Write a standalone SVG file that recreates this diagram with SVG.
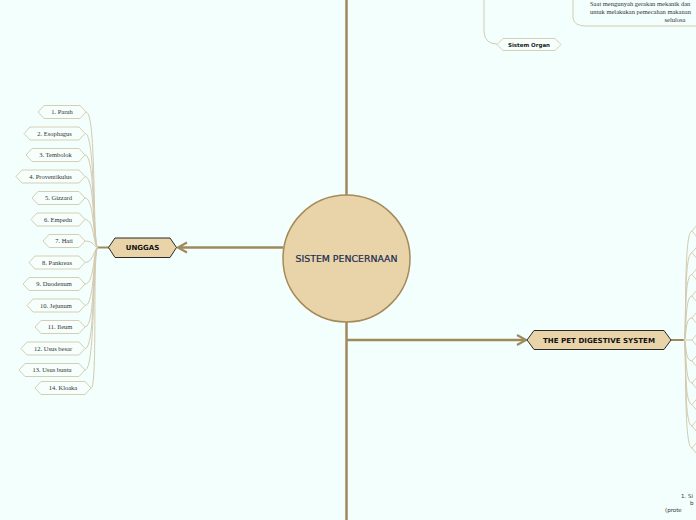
<svg xmlns="http://www.w3.org/2000/svg" width="696" height="520" viewBox="0 0 696 520">
<style>
.bg{fill:#f3fffd}
.main{fill:none;stroke:#a08a5c;stroke-width:2.5}
.thin{fill:none;stroke:#d3cab0;stroke-width:1}
.leaf{fill:#f6fffb;stroke:#d6ceb4;stroke-width:1}
.leaft{font-family:"Liberation Serif","DejaVu Serif",serif;font-size:6.5px;fill:#333;text-anchor:middle}
.topic{fill:#e8d4a8;stroke:#2a2a2a;stroke-width:1}
.topict{font-family:"DejaVu Sans",sans-serif;font-weight:bold;font-size:7px;fill:#111;text-anchor:middle}
.note{font-family:"Liberation Serif","DejaVu Serif",serif;font-size:6.5px;fill:#333}
</style>
<defs>
<marker id="arr" markerWidth="14" markerHeight="14" refX="10" refY="6" orient="auto" markerUnits="userSpaceOnUse" overflow="visible">
<path d="M1 1 L10 6 L1 11" fill="none" stroke="#a08a5c" stroke-width="2.2"/>
</marker>
</defs>
<rect class="bg" x="0" y="0" width="696" height="520"/>

<g id="connectors">
<path class="main" d="M346.5 0 V195"/>
<path class="main" d="M346.5 322 V520"/>
<path class="main" d="M283 247.5 H178" marker-end="url(#arr)"/>
<path class="main" d="M346.5 340 H526" marker-end="url(#arr)"/>
<path class="main" d="M671 340 H684" style="stroke-width:2"/>
<path class="main" d="M98 247.5 H109" style="stroke-width:2"/>
<path class="thin" d="M484 0 V32 Q485 44 497 44"/>
<path class="thin" d="M573 0 V18 Q574 26 586 26 H696"/>
<path class="thin" d="M86 112 C97 112 92 247.5 98 247.5"/>
<path class="thin" d="M85 133.5 C96 133.5 92 247.5 98 247.5"/>
<path class="thin" d="M85 155 C96 155 92 247.5 98 247.5"/>
<path class="thin" d="M85 176.5 C96 176.5 92 247.5 98 247.5"/>
<path class="thin" d="M85 198 C95 198 93 247.5 98 247.5"/>
<path class="thin" d="M85 219.5 C95 219.5 93 247.5 98 247.5"/>
<path class="thin" d="M85 241 C94 241 94 247.5 98 247.5"/>
<path class="thin" d="M85 262.5 C94 262.5 94 247.5 98 247.5"/>
<path class="thin" d="M85 284 C95 284 93 247.5 98 247.5"/>
<path class="thin" d="M85 305.5 C95 305.5 93 247.5 98 247.5"/>
<path class="thin" d="M85 327 C96 327 92 247.5 98 247.5"/>
<path class="thin" d="M85 348.5 C96 348.5 92 247.5 98 247.5"/>
<path class="thin" d="M85 370 C96 370 92 247.5 98 247.5"/>
<path class="thin" d="M91 388 C98 388 92 247.5 98 247.5"/>
<path class="thin" d="M684 340 C687 340 683 231 692 231"/>
<path class="thin" d="M684 340 C687 340 683 252.7 692 252.7"/>
<path class="thin" d="M684 340 C687 340 683 274.4 692 274.4"/>
<path class="thin" d="M684 340 C687 340 684 296 692 296"/>
<path class="thin" d="M684 340 C687 340 684 317.8 692 317.8"/>
<path class="thin" d="M684 340 H692"/>
<path class="thin" d="M684 340 C687 340 684 361 692 361"/>
<path class="thin" d="M684 340 C687 340 684 383 692 383"/>
<path class="thin" d="M684 340 C687 340 683 404.6 692 404.6"/>
<path class="thin" d="M684 340 C687 340 683 426 692 426"/>
<path class="thin" d="M684 340 C687 340 683 448 692 448"/>
</g>

<g id="center">
<circle cx="346.5" cy="258.5" r="63.5" fill="#e8d4a8" stroke="#a58a5a" stroke-width="1.5"/>
<text x="346.5" y="261.5" font-family="DejaVu Sans,sans-serif" font-size="9px" fill="#1b2a55" stroke="#1b2a55" stroke-width="0.2" text-anchor="middle" textLength="102" lengthAdjust="spacingAndGlyphs">SISTEM PENCERNAAN</text>
</g>

<g id="unggas">
<path class="topic" d="M108.5 247.5 L115 238 H170 L176.5 247.5 L170 257.5 H115 Z"/>
<text class="topict" x="142.5" y="250">UNGGAS</text>
</g>

<g id="pet">
<path class="topic" d="M527 340 L534 330.5 H664 L671 340 L664 349.5 H534 Z"/>
<text class="topict" x="599" y="342.5" textLength="112" lengthAdjust="spacingAndGlyphs">THE PET DIGESTIVE SYSTEM</text>
</g>

<g id="sistem-organ">
<path class="leaf" d="M497 44.5 L503 38.5 H555 L561 44.5 L555 50.5 H503 Z"/>
<text x="529" y="46.5" font-family="DejaVu Sans,sans-serif" font-weight="bold" font-size="5.5px" fill="#222" text-anchor="middle">Sistem Organ</text>
</g>

<g id="note-top">
<text class="note" x="590" y="6">Saat mengunyah gerakan mekanik dan</text>
<text class="note" x="590" y="14">untuk melakukan pemecahan makanan</text>
<text class="note" x="675" y="22" text-anchor="middle">selulosa</text>
</g>

<g id="note-bottom">
<text x="681" y="498" font-family="DejaVu Sans,sans-serif" font-size="5.5px" fill="#333">1. Si</text>
<text x="690" y="505" font-family="DejaVu Sans,sans-serif" font-size="5.5px" fill="#333">b</text>
<text x="665" y="512" font-family="DejaVu Sans,sans-serif" font-size="5.5px" fill="#333">(prote</text>
</g>

<g id="right-tips">
<path class="leaf" d="M697 225 L692 231 L697 237"/>
<path class="leaf" d="M697 246.7 L692 252.7 L697 258.7"/>
<path class="leaf" d="M697 268.4 L692 274.4 L697 280.4"/>
<path class="leaf" d="M697 290 L692 296 L697 302"/>
<path class="leaf" d="M697 311.8 L692 317.8 L697 323.8"/>
<path class="leaf" d="M697 334 L692 340 L697 346"/>
<path class="leaf" d="M697 355 L692 361 L697 367"/>
<path class="leaf" d="M697 377 L692 383 L697 389"/>
<path class="leaf" d="M697 398.6 L692 404.6 L697 410.6"/>
<path class="leaf" d="M697 420 L692 426 L697 432"/>
<path class="leaf" d="M697 442 L692 448 L697 454"/>
</g>

<g id="n1"><path class="leaf" d="M38 112 L44 105.5 H80 L86 112 L80 118.5 H44 Z"/><text class="leaft" x="62" y="114.3">1. Paruh</text></g>
<g id="n2"><path class="leaf" d="M24 133.5 L30 127 H79 L85 133.5 L79 140 H30 Z"/><text class="leaft" x="54.5" y="135.8">2. Esophagus</text></g>
<g id="n3"><path class="leaf" d="M26 155 L32 148.5 H79 L85 155 L79 161.5 H32 Z"/><text class="leaft" x="55.5" y="157.3">3. Tembolok</text></g>
<g id="n4"><path class="leaf" d="M16 176.5 L22 170 H79 L85 176.5 L79 183 H22 Z"/><text class="leaft" x="50.5" y="178.8">4. Proventikulus</text></g>
<g id="n5"><path class="leaf" d="M32 198 L38 191.5 H79 L85 198 L79 204.5 H38 Z"/><text class="leaft" x="58.5" y="200.3">5. Gizzard</text></g>
<g id="n6"><path class="leaf" d="M31 219.5 L37 213 H79 L85 219.5 L79 226 H37 Z"/><text class="leaft" x="58" y="221.8">6. Empedu</text></g>
<g id="n7"><path class="leaf" d="M43 241 L49 234.5 H79 L85 241 L79 247.5 H49 Z"/><text class="leaft" x="64" y="243.3">7. Hati</text></g>
<g id="n8"><path class="leaf" d="M29 262.5 L35 256 H79 L85 262.5 L79 269 H35 Z"/><text class="leaft" x="57" y="264.8">8. Pankreas</text></g>
<g id="n9"><path class="leaf" d="M23 284 L29 277.5 H79 L85 284 L79 290.5 H29 Z"/><text class="leaft" x="54" y="286.3">9. Duodenum</text></g>
<g id="n10"><path class="leaf" d="M27 305.5 L33 299 H79 L85 305.5 L79 312 H33 Z"/><text class="leaft" x="56" y="307.8">10. Jejunum</text></g>
<g id="n11"><path class="leaf" d="M35 327 L41 320.5 H79 L85 327 L79 333.5 H41 Z"/><text class="leaft" x="60" y="329.3">11. Ileum</text></g>
<g id="n12"><path class="leaf" d="M21 348.5 L27 342 H79 L85 348.5 L79 355 H27 Z"/><text class="leaft" x="53" y="350.8">12. Usus besar</text></g>
<g id="n13"><path class="leaf" d="M19 370 L25 363.5 H79 L85 370 L79 376.5 H25 Z"/><text class="leaft" x="52" y="372.3">13. Usus buntu</text></g>
<g id="n14"><path class="leaf" d="M35 388 L41 381.5 H85 L91 388 L85 394.5 H41 Z"/><text class="leaft" x="63" y="390.3">14. Kloaka</text></g>
</svg>
